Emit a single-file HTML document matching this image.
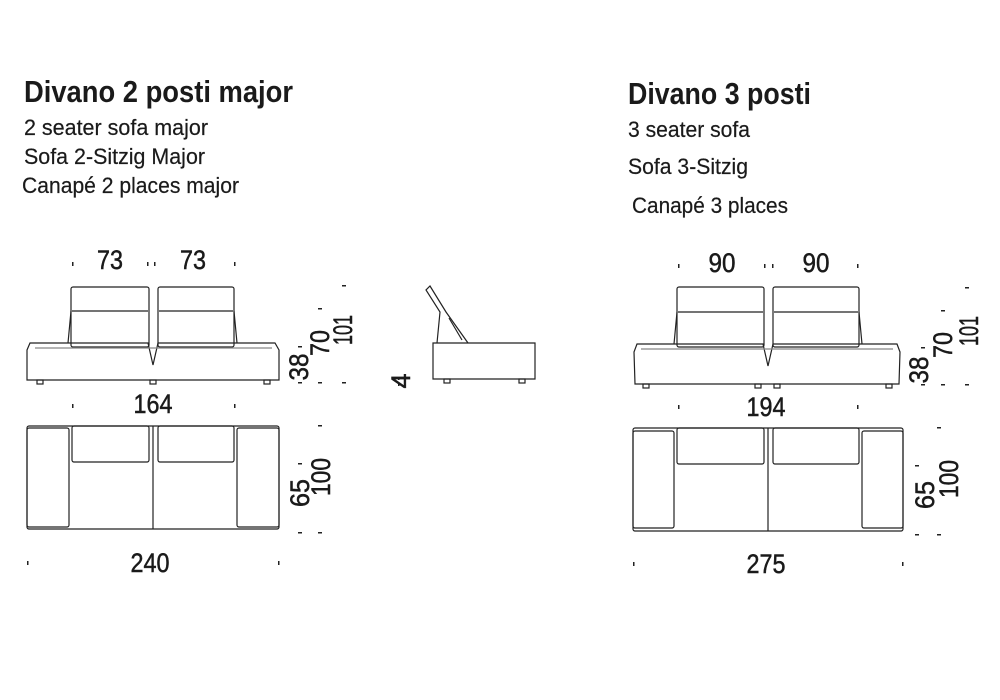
<!DOCTYPE html>
<html><head><meta charset="utf-8"><style>
html,body{margin:0;padding:0;background:#fff;}
svg{display:block}
text{font-family:"Liberation Sans Narrow","Liberation Sans",sans-serif;fill:#1a1a1a;}
.t{font-weight:bold;font-size:31px}
.s{font-size:22px;stroke:#1a1a1a;stroke-width:0.2}
.d{font-size:27px;stroke:#1a1a1a;stroke-width:0.5}
</style></head><body>
<svg width="1000" height="700" viewBox="0 0 1000 700" xmlns="http://www.w3.org/2000/svg">
<g stroke="#222" stroke-width="1.2" fill="none">
<!-- LEFT front -->
<rect x="71" y="287" width="78" height="60" rx="2"/><line x1="72" y1="311" x2="148" y2="311"/>
<rect x="158" y="287" width="76" height="60" rx="2"/><line x1="159" y1="311" x2="233" y2="311"/>
<path d="M71 311 L68 343 M234 311 L237 343"/>
<path d="M30 343 L148 343 L153 365 L158 343 L275 343 L279 350 L279 380 L27 380 L27 350 Z"/>
<line x1="35" y1="348" x2="272" y2="348" stroke="#888"/>
<rect x="37" y="380" width="6" height="4"/><rect x="150" y="380" width="6" height="4"/><rect x="264" y="380" width="6" height="4"/>
<!-- LEFT top -->
<rect x="27" y="426" width="252" height="103" rx="2"/>
<rect x="27" y="428" width="42" height="99" rx="2"/><rect x="237" y="428" width="42" height="99" rx="2"/>
<rect x="72" y="426" width="77" height="36" rx="2"/><rect x="158" y="426" width="76" height="36" rx="2"/>
<line x1="153" y1="426" x2="153" y2="529"/>
<!-- SIDE -->
<path d="M433 343 L535 343 L535 379 L433 379 Z"/>
<path d="M437 343 L440 312 L426 290 L430 286 L446 312 L468 343"/>
<line x1="449" y1="318" x2="462" y2="340"/>
<rect x="444" y="379" width="6" height="4"/><rect x="519" y="379" width="6" height="4"/>
<!-- RIGHT front -->
<rect x="677" y="287" width="87" height="60" rx="2"/><line x1="678" y1="312" x2="763" y2="312"/>
<rect x="773" y="287" width="86" height="60" rx="2"/><line x1="774" y1="312" x2="858" y2="312"/>
<path d="M677 312 L674 344 M859 312 L862 344"/>
<path d="M637 344 L763 344 L768 366 L773 344 L897 344 L900 352 L899 384 L635 384 L634 352 Z"/>
<line x1="641" y1="349" x2="893" y2="349" stroke="#888"/>
<rect x="643" y="384" width="6" height="4"/><rect x="755" y="384" width="6" height="4"/><rect x="774" y="384" width="6" height="4"/><rect x="886" y="384" width="6" height="4"/>
<!-- RIGHT top -->
<rect x="633" y="428" width="270" height="103" rx="2"/>
<rect x="633" y="431" width="41" height="97" rx="2"/><rect x="862" y="431" width="41" height="97" rx="2"/>
<rect x="677" y="428" width="87" height="36" rx="2"/><rect x="773" y="428" width="86" height="36" rx="2"/>
<line x1="768" y1="428" x2="768" y2="531"/>
</g>
<g fill="#222">
<rect x="72" y="262" width="1.5" height="4"/><rect x="147" y="262" width="1.5" height="4"/><rect x="154" y="262" width="1.5" height="4"/><rect x="234" y="262" width="1.5" height="4"/>
<rect x="72" y="404" width="1.5" height="4"/><rect x="234" y="404" width="1.5" height="4"/>
<rect x="27" y="561" width="1.5" height="4"/><rect x="278" y="561" width="1.5" height="4"/>
<rect x="678" y="264" width="1.5" height="4"/><rect x="764" y="264" width="1.5" height="4"/><rect x="772" y="264" width="1.5" height="4"/><rect x="857" y="264" width="1.5" height="4"/>
<rect x="678" y="405" width="1.5" height="4"/><rect x="857" y="405" width="1.5" height="4"/>
<rect x="633" y="562" width="1.5" height="4"/><rect x="902" y="562" width="1.5" height="4"/>
<rect x="298" y="382" width="4" height="1.5"/><rect x="318" y="382" width="4" height="1.5"/><rect x="342" y="382" width="4" height="1.5"/>
<rect x="298" y="346" width="4" height="1.5"/><rect x="318" y="308" width="4" height="1.5"/><rect x="342" y="285" width="4" height="1.5"/>
<rect x="298" y="532" width="4" height="1.5"/><rect x="318" y="532" width="4" height="1.5"/><rect x="298" y="463" width="4" height="1.5"/><rect x="318" y="425" width="4" height="1.5"/>
<rect x="398" y="378" width="1.5" height="2"/><rect x="398" y="384" width="1.5" height="2"/>
<rect x="921" y="384" width="4" height="1.5"/><rect x="941" y="384" width="4" height="1.5"/><rect x="965" y="384" width="4" height="1.5"/>
<rect x="921" y="347" width="4" height="1.5"/><rect x="941" y="310" width="4" height="1.5"/><rect x="965" y="287" width="4" height="1.5"/>
<rect x="915" y="534" width="4" height="1.5"/><rect x="937" y="534" width="4" height="1.5"/><rect x="915" y="465" width="4" height="1.5"/><rect x="937" y="427" width="4" height="1.5"/>
</g>
<text class="t" x="24" y="102" textLength="269" lengthAdjust="spacingAndGlyphs">Divano 2 posti major</text>
<text class="s" x="24" y="135" textLength="184" lengthAdjust="spacingAndGlyphs">2 seater sofa major</text>
<text class="s" x="24" y="164" textLength="181" lengthAdjust="spacingAndGlyphs">Sofa 2-Sitzig Major</text>
<text class="s" x="22" y="193" textLength="217" lengthAdjust="spacingAndGlyphs">Canapé 2 places major</text>
<text class="t" x="628" y="104" textLength="183" lengthAdjust="spacingAndGlyphs">Divano 3 posti</text>
<text class="s" x="628" y="137" textLength="122" lengthAdjust="spacingAndGlyphs">3 seater sofa</text>
<text class="s" x="628" y="174" textLength="120" lengthAdjust="spacingAndGlyphs">Sofa 3-Sitzig</text>
<text class="s" x="632" y="213" textLength="156" lengthAdjust="spacingAndGlyphs">Canapé 3 places</text>
<g text-anchor="middle">
<text class="d" x="110" y="269" textLength="26" lengthAdjust="spacingAndGlyphs">73</text><text class="d" x="193" y="269" textLength="26" lengthAdjust="spacingAndGlyphs">73</text>
<text class="d" x="153" y="413" textLength="39" lengthAdjust="spacingAndGlyphs">164</text><text class="d" x="150" y="572" textLength="39" lengthAdjust="spacingAndGlyphs">240</text>
<text class="d" x="722" y="272" textLength="27" lengthAdjust="spacingAndGlyphs">90</text><text class="d" x="816" y="272" textLength="27" lengthAdjust="spacingAndGlyphs">90</text>
<text class="d" x="766" y="416" textLength="39" lengthAdjust="spacingAndGlyphs">194</text><text class="d" x="766" y="573" textLength="39" lengthAdjust="spacingAndGlyphs">275</text>
<text class="d" transform="translate(308,367) rotate(-90)" textLength="27" lengthAdjust="spacingAndGlyphs">38</text>
<text class="d" transform="translate(329,343) rotate(-90)" textLength="26" lengthAdjust="spacingAndGlyphs">70</text>
<text class="d" transform="translate(352,330) rotate(-90)" textLength="30" lengthAdjust="spacingAndGlyphs">101</text>
<text class="d" transform="translate(309,493) rotate(-90)" textLength="28" lengthAdjust="spacingAndGlyphs">65</text>
<text class="d" transform="translate(330,477) rotate(-90)" textLength="38" lengthAdjust="spacingAndGlyphs">100</text>
<text class="d" transform="translate(410,381) rotate(-90)">4</text>
<text class="d" transform="translate(928,370) rotate(-90)" textLength="27" lengthAdjust="spacingAndGlyphs">38</text>
<text class="d" transform="translate(952,345) rotate(-90)" textLength="26" lengthAdjust="spacingAndGlyphs">70</text>
<text class="d" transform="translate(978,331) rotate(-90)" textLength="30" lengthAdjust="spacingAndGlyphs">101</text>
<text class="d" transform="translate(934,495) rotate(-90)" textLength="28" lengthAdjust="spacingAndGlyphs">65</text>
<text class="d" transform="translate(958,479) rotate(-90)" textLength="38" lengthAdjust="spacingAndGlyphs">100</text>
</g>
</svg>
</body></html>
